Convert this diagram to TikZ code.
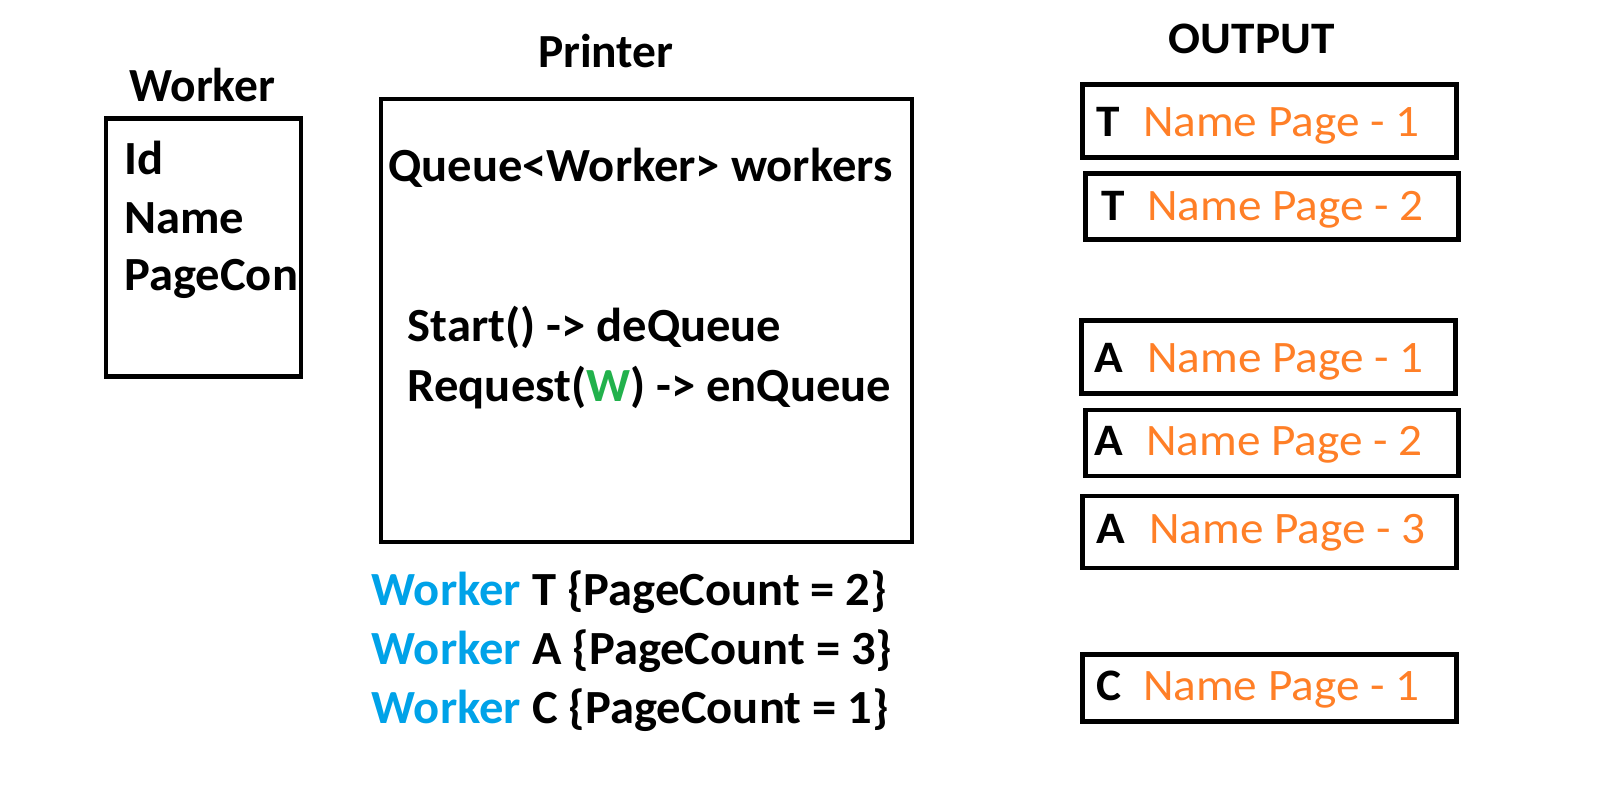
\documentclass[tikz,border=0pt]{standalone}
\usepackage{fontspec}
\setmainfont{Carlito}
\newfontfamily\bodyfont[FakeStretch=1.02]{Carlito}
\newfontfamily\outfont[FakeStretch=1.05]{Carlito}
\definecolor{wblue}{RGB}{0,162,232}
\definecolor{wgreen}{RGB}{34,177,76}
\definecolor{worange}{RGB}{255,127,39}
\tikzset{
  box/.style={draw=black, line width=4.6pt, inner sep=0pt, anchor=north west},
  txt/.style={inner sep=0pt, anchor=base west, font=\bodyfont\fontsize{47.6}{52}\selectfont\bfseries},
  ttl/.style={inner sep=0pt, anchor=base, font=\fontsize{47.5}{52}\selectfont\bfseries},
  otl/.style={inner sep=0pt, anchor=base, font=\outfont\fontsize{45}{50}\selectfont\bfseries},
  olet/.style={inner sep=0pt, anchor=base west, font=\outfont\fontsize{45}{50}\selectfont\bfseries},
  oname/.style={inner sep=0pt, anchor=base west, text=worange, font=\outfont\fontsize{45}{50}\selectfont},
}
\begin{document}
\begin{tikzpicture}[x=1.0268pt,y=-1.0268pt]
\useasboundingbox (0,0) rectangle (1568,779.1);
% Worker
\node[ttl] (wt) at (197,99) {Worker};
\node[box, minimum width=195pt, minimum height=258pt] (wb) at (101,113) {};
\node[txt] (wid) at (121,170) {Id};
\node[txt] (wname) at (121,227) {Name};
\node[txt] (wpc) at (121,283) {PageCon};
% Printer
\node[ttl] (pt) at (590,66) {Printer};
\node[box, minimum width=531pt, minimum height=443pt] (pb) at (369,94) {};
\node[txt] (pq) at (378,177) {Queue<Worker> workers};
\node[txt] (ps) at (397,333) {Start() -> deQueue};
\node[txt] (pr) at (397,391) {Request(\textcolor{wgreen}{W}) -> enQueue};
% Workers list
\node[txt] (l1) at (362,590) {\textcolor{wblue}{Worker} T \{PageCount = 2\}};
\node[txt] (l2) at (362,647) {\textcolor{wblue}{Worker} A \{PageCount = 3\}};
\node[txt] (l3) at (362,705) {\textcolor{wblue}{Worker} C \{PageCount = 1\}};
% Output
\node[otl] (ot) at (1219,52.5) {OUTPUT};
\node[box, minimum width=374pt, minimum height=73pt] (o1) at (1052,80) {};
\node[olet] (o1l) at (1068,132.5) {T};
\node[oname] (o1n) at (1113,132.5) {Name Page - 1};
\node[box, minimum width=373pt, minimum height=66pt] (o2) at (1055,167) {};
\node[olet] (o2l) at (1073,215) {T};
\node[oname] (o2n) at (1117,215) {Name Page - 2};
\node[box, minimum width=374pt, minimum height=73pt] (o3) at (1051,310) {};
\node[olet] (o3l) at (1066,363) {A};
\node[oname] (o3n) at (1117,363) {Name Page - 1};
\node[box, minimum width=373pt, minimum height=66pt] (o4) at (1055,397) {};
\node[olet] (o4l) at (1066,444) {A};
\node[oname] (o4n) at (1116,444) {Name Page - 2};
\node[box, minimum width=374pt, minimum height=72pt] (o5) at (1052,481) {};
\node[olet] (o5l) at (1068,529) {A};
\node[oname] (o5n) at (1119,529) {Name Page - 3};
\node[box, minimum width=374pt, minimum height=67pt] (o6) at (1052,635) {};
\node[olet] (o6l) at (1068,682) {C};
\node[oname] (o6n) at (1113,682) {Name Page - 1};
\end{tikzpicture}
\end{document}
